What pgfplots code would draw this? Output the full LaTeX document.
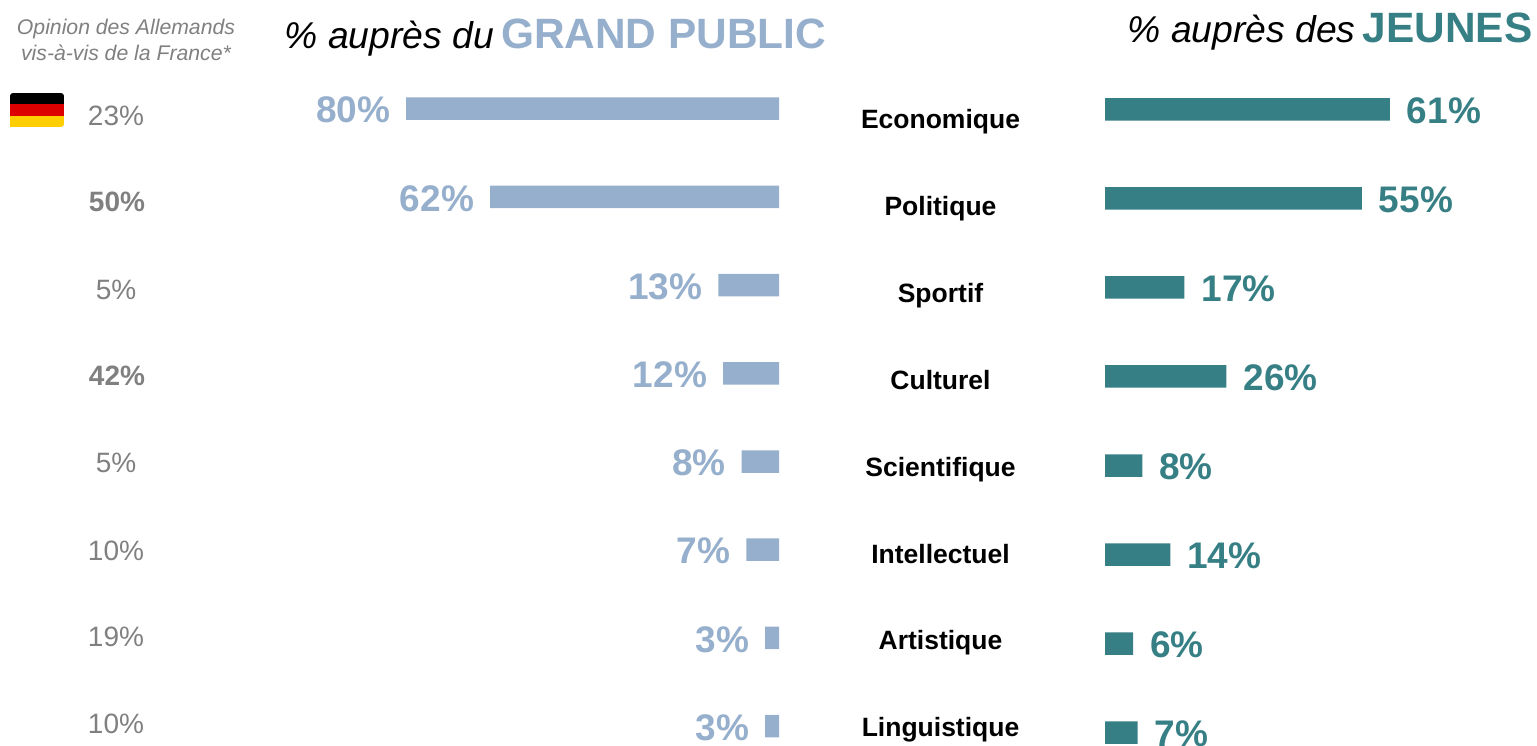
\documentclass[border=0pt]{standalone}
\usepackage{pgfplots}
\pgfplotsset{compat=1.18}
\usepackage{fontspec}
\setmainfont{Liberation Sans}
\definecolor{gp}{HTML}{95AFCC}
\definecolor{jn}{HTML}{367F84}
\definecolor{gt}{HTML}{808080}
\definecolor{flagred}{HTML}{DD0000}
\definecolor{flaggold}{HTML}{FFCE00}
\newcommand{\fs}[1]{\fontsize{#1}{#1}\selectfont}
\pgfplotsset{bars/.style={
  scale only axis,axis lines=none,clip=false,
  y dir=reverse,
  xbar,bar width=22.5pt,bar shift=0pt,
  point meta=x,
  /pgf/number format/assume math mode=true,
  nodes near coords={\pgfmathprintnumber[fixed,precision=0,assume math mode=true]{\pgfplotspointmeta}\%},
}}
\begin{document}
\begin{tikzpicture}[x=1pt,y=1pt]
\path[use as bounding box] (0,0) rectangle (1537,746);
% GRAND PUBLIC: 4.66 px per %, zero at x=779; rows at 108.7 + 88.2 i
\begin{axis}[bars,at={(0pt,0pt)},anchor=south west,width=779pt,height=746pt,
  x dir=reverse,xmin=0,xmax=167.167,
  ymin=-1.2324,ymax=7.2256,
  every node near coord/.append style={anchor=east,xshift=-12.5pt,yshift=-1.5pt,text=gp,font=\fs{37}\bfseries}]
\addplot[fill=gp,draw=none] coordinates {(80,0)(62,1)(13,2)(12,3)(8,4)(7,5)(3,6)(3,7)};
\end{axis}
% JEUNES: 4.67 px per %, zero at x=1105; rows at 109.5 + 89 i
\begin{axis}[bars,at={(1105pt,0pt)},anchor=south west,width=432pt,height=746pt,
  xmin=0,xmax=92.505,
  ymin=-1.2303,ymax=7.1517,
  every node near coord/.append style={anchor=west,xshift=13.5pt,yshift=-1.5pt,text=jn,font=\fs{37}\bfseries}]
\addplot[fill=jn,draw=none] coordinates {(61,0)(55,1)(17,2)(26,3)(8,4)(14,5)(6,6)(7,7)};
\end{axis}
% Titles
\node[anchor=base west,inner sep=0pt] at (284.5,746-49) {\fs{37.3}\itshape\% auprès du\hspace{7pt}\fs{42.4}\upshape\bfseries\textcolor{gp}{GRAND PUBLIC}};
\node[anchor=base east,inner sep=0pt] at (1532.5,746-43) {\fs{37.3}\itshape\% auprès des\hspace{7pt}\fs{42.4}\upshape\bfseries\textcolor{jn}{JEUNES}};
\node[anchor=base,inner sep=0pt,text=gt] at (126,746-35) {\fs{21.2}\itshape Opinion des Allemands};
\node[anchor=base,inner sep=0pt,text=gt] at (126,746-60.5) {\fs{21.2}\itshape vis-à-vis de la France*};
% Flag
\begin{scope}
\clip (10,746-127) -- (61,746-127) arc[start angle=-90,end angle=0,radius=3] -- (64,746-96) arc[start angle=0,end angle=90,radius=3] -- (13,746-93) arc[start angle=90,end angle=180,radius=3] -- cycle;
\fill[black] (10,746-104) rectangle (64,746-93);
\fill[flagred] (10,746-115.7) rectangle (64,746-104);
\fill[flaggold] (10,746-127) rectangle (64,746-115.7);
\end{scope}
% Category labels and German opinion
\foreach \t/\p/\b/\yc/\yg/\xg in {Economique/23\%//128.5/126/116,Politique/50\%/\bfseries/215.5/212/117,Sportif/5\%//302.5/300/116,Culturel/42\%/\bfseries/389.5/386/117,Scientifique/5\%//476.5/473/116,Intellectuel/10\%//563.5/561/116,Artistique/19\%//649.5/647/116,Linguistique/10\%//736.5/734/116}{
  \node[anchor=base,inner sep=0pt] at (940.5,746-\yc) {\fs{26.5}\bfseries\t};
  \node[anchor=base,inner sep=0pt,text=gt] at (\xg,746-\yg) {\fs{28}\b\p};
}
\end{tikzpicture}
\end{document}
